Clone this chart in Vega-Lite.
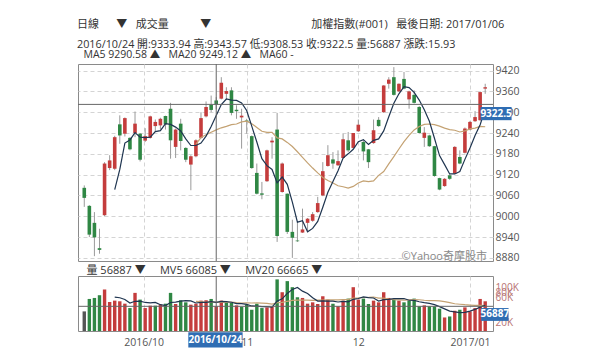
{
"$schema":"https://vega.github.io/schema/vega-lite/v6.json",
"padding":{"left":77,"top":18,"right":0,"bottom":0},
"background":"white",
"title":{"text":"\u00a0日線\u00a0\u00a0\u00a0\u00a0\u00a0\u00a0▼\u00a0\u00a0\u00a0成交量\u00a0\u00a0\u00a0\u00a0\u00a0\u00a0\u00a0\u00a0\u00a0\u00a0\u00a0▼\u00a0\u00a0\u00a0\u00a0\u00a0\u00a0\u00a0\u00a0\u00a0\u00a0\u00a0\u00a0\u00a0\u00a0\u00a0\u00a0\u00a0\u00a0\u00a0\u00a0\u00a0\u00a0\u00a0\u00a0\u00a0\u00a0\u00a0\u00a0\u00a0\u00a0\u00a0\u00a0\u00a0\u00a0\u00a0加權指數(#001)\u00a0\u00a0\u00a0最後日期: 2017/01/06","subtitle":"2016/10/24\u00a0開:9333.94\u00a0高:9343.57\u00a0低:9308.53\u00a0收:9322.5\u00a0量:56887\u00a0漲跌:15.93","anchor":"start","fontSize":11,"fontWeight":"normal","color":"#333","subtitleFontSize":10.8,"subtitleColor":"#333","subtitlePadding":9,"offset":0},
"datasets":{"d":[
{"i":0,"o":9082,"h":9089,"l":9027,"c":9053,"v":45200,"vd":"n"},
{"i":1,"o":9030,"h":9032,"l":8940,"c":8947,"v":73900,"vd":"d"},
{"i":2,"o":8981,"h":9012,"l":8885,"c":8939,"v":76200,"vd":"d"},
{"i":3,"o":8908,"h":8964,"l":8892,"c":8903,"v":82500,"vd":"d"},
{"i":4,"o":9003,"h":9156,"l":9000,"c":9152,"v":95700,"vd":"u"},
{"i":5,"o":9139,"h":9176,"l":9133,"c":9161,"v":66900,"vd":"u"},
{"i":6,"o":9137,"h":9232,"l":9133,"c":9228,"v":70000,"vd":"u","m5":9077,"v5":78300},
{"i":7,"o":9265,"h":9291,"l":9209,"c":9233,"v":68500,"vd":"u","m5":9135,"v5":76700},
{"i":8,"o":9238,"h":9285,"l":9230,"c":9283,"v":63000,"vd":"u","m5":9211,"v5":72800},
{"i":9,"o":9226,"h":9228,"l":9190,"c":9193,"v":52900,"vd":"d","m5":9220,"v5":64300},
{"i":10,"o":9240,"h":9302,"l":9228,"c":9267,"v":87900,"vd":"u","m5":9241,"v5":68500},
{"i":11,"o":9238,"h":9240,"l":9158,"c":9163,"v":72400,"vd":"d","m5":9228,"v5":68900},
{"i":12,"o":9218,"h":9254,"l":9214,"c":9231,"v":52900,"vd":"u","m5":9227,"v5":65800},
{"i":13,"o":9226,"h":9290,"l":9224,"c":9288,"v":58400,"vd":"u","m5":9228,"v5":64900},
{"i":14,"o":9260,"h":9279,"l":9243,"c":9272,"v":58400,"vd":"d","m5":9244,"v5":66000},
{"i":15,"o":9262,"h":9284,"l":9250,"c":9281,"v":60700,"vd":"u","m5":9247,"v5":60600},
{"i":16,"o":9289,"h":9290,"l":9250,"c":9265,"v":63000,"vd":"d","m5":9267,"v5":58700},
{"i":17,"o":9310,"h":9327,"l":9166,"c":9219,"v":87900,"vd":"d","m5":9265,"v5":65700},
{"i":18,"o":9200,"h":9253,"l":9168,"c":9250,"v":62200,"vd":"u","m5":9257,"v5":66400},
{"i":19,"o":9267,"h":9281,"l":9190,"c":9217,"v":70800,"vd":"d","m5":9246,"v5":68900},
{"i":20,"o":9197,"h":9199,"l":9156,"c":9163,"v":66100,"vd":"d","m5":9223,"v5":70000},
{"i":21,"o":9149,"h":9176,"l":9075,"c":9173,"v":60700,"vd":"u","m5":9204,"v5":69500},
{"i":22,"o":9173,"h":9222,"l":9170,"c":9219,"v":63000,"vd":"u","m5":9204,"m20":9208,"v5":64600,"v20":68200},
{"i":23,"o":9226,"h":9300,"l":9224,"c":9283,"v":70000,"vd":"u","m5":9211,"m20":9227,"v5":66100,"v20":67600},
{"i":24,"o":9288,"h":9331,"l":9285,"c":9315,"v":70800,"vd":"u","m5":9231,"m20":9235,"v5":66100,"v20":66300},
{"i":25,"o":9321,"h":9348,"l":9300,"c":9306.57,"v":73900,"vd":"d","m5":9259,"m20":9242,"v5":67700,"v20":66700},
{"i":26,"o":9333.94,"h":9343.57,"l":9308.53,"c":9322.5,"v":56887,"vd":"u","m5":9290.58,"m20":9249.12,"v5":66085,"v20":66665},
{"i":27,"o":9339,"h":9401,"l":9337,"c":9385,"v":70000,"vd":"u","m5":9322,"m20":9255,"v5":68300,"v20":66100},
{"i":28,"o":9353,"h":9372,"l":9335,"c":9361,"v":66100,"vd":"d","m5":9338,"m20":9259,"v5":67500,"v20":66300},
{"i":29,"o":9363,"h":9372,"l":9291,"c":9298,"v":64600,"vd":"d","m5":9335,"m20":9264,"v5":66300,"v20":66800},
{"i":30,"o":9307,"h":9320,"l":9281,"c":9303,"v":59100,"vd":"u","m5":9334,"m20":9266,"v5":63300,"v20":65400},
{"i":31,"o":9285,"h":9310,"l":9195,"c":9290,"v":55300,"vd":"d","m5":9327,"m20":9272,"v5":63000,"v20":64500},
{"i":32,"o":9276,"h":9281,"l":9238,"c":9272,"v":60700,"vd":"d","m5":9305,"m20":9274,"v5":61200,"v20":64900},
{"i":33,"o":9231,"h":9233,"l":9137,"c":9139,"v":49000,"vd":"d","m5":9260,"m20":9267,"v5":57700,"v20":64500},
{"i":34,"o":9125,"h":9152,"l":9063,"c":9065,"v":63000,"vd":"d","m5":9214,"m20":9256,"v5":57400,"v20":64700},
{"i":35,"o":9066,"h":9099,"l":9049,"c":9062,"v":52900,"vd":"d","m5":9166,"m20":9245,"v5":56200,"v20":64300},
{"i":36,"o":9101,"h":9192,"l":9099,"c":9190,"v":54500,"vd":"u","m5":9146,"m20":9242,"v5":56000,"v20":63900},
{"i":37,"o":9213,"h":9228,"l":9166,"c":9218,"v":55300,"vd":"u","m5":9135,"m20":9242,"v5":54900,"v20":62200},
{"i":38,"o":9250,"h":9298,"l":8926,"c":8943,"v":119000,"vd":"d","m5":9096,"m20":9226,"v5":68900,"v20":65100},
{"i":39,"o":9070,"h":9155,"l":9068,"c":9152,"v":89400,"vd":"u","m5":9113,"m20":9223,"v5":74200,"v20":66000},
{"i":40,"o":9065,"h":9066,"l":8949,"c":8955,"v":115000,"vd":"d","m5":9092,"m20":9213,"v5":86600,"v20":68500},
{"i":41,"o":8955,"h":8990,"l":8880,"c":8938,"v":101000,"vd":"d","m5":9041,"m20":9201,"v5":95900,"v20":70500},
{"i":42,"o":8930,"h":8984,"l":8926,"c":8928,"v":77800,"vd":"d","m5":8983,"m20":9186,"v5":100400,"v20":71200},
{"i":43,"o":8953,"h":9022,"l":8952,"c":8962,"v":76200,"vd":"u","m5":8987,"m20":9170,"v5":91900,"v20":71500},
{"i":44,"o":8981,"h":8995,"l":8955,"c":8993,"v":63000,"vd":"u","m5":8955,"m20":9154,"v5":86600,"v20":71100},
{"i":45,"o":8987,"h":9012,"l":8984,"c":9006,"v":66100,"vd":"u","m5":8965,"m20":9139,"v5":76800,"v20":70700},
{"i":46,"o":9012,"h":9056,"l":9010,"c":9038,"v":62200,"vd":"u","m5":8985,"m20":9125,"v5":69100,"v20":71000},
{"i":47,"o":9060,"h":9156,"l":9058,"c":9130,"v":80100,"vd":"u","m5":9026,"m20":9112,"v5":69500,"v20":71500},
{"i":48,"o":9145,"h":9205,"l":9143,"c":9176,"v":72400,"vd":"u","m5":9069,"m20":9103,"v5":68800,"v20":71800},
{"i":49,"o":9164,"h":9185,"l":9137,"c":9152,"v":63000,"vd":"d","m5":9100,"m20":9096,"v5":68800,"v20":71800},
{"i":50,"o":9147,"h":9190,"l":9145,"c":9159,"v":56800,"vd":"u","m5":9131,"m20":9088,"v5":66900,"v20":71600},
{"i":51,"o":9168,"h":9238,"l":9166,"c":9222,"v":70000,"vd":"u","m5":9168,"m20":9085,"v5":68500,"v20":72400},
{"i":52,"o":9219,"h":9243,"l":9185,"c":9190,"v":74700,"vd":"d","m5":9180,"m20":9081,"v5":67400,"v20":73100},
{"i":53,"o":9197,"h":9240,"l":9195,"c":9240,"v":101000,"vd":"u","m5":9193,"m20":9086,"v5":73100,"v20":75700},
{"i":54,"o":9245,"h":9279,"l":9243,"c":9264,"v":72400,"vd":"u","m5":9215,"m20":9096,"v5":75000,"v20":76100},
{"i":55,"o":9214,"h":9219,"l":9161,"c":9187,"v":74700,"vd":"d","m5":9221,"m20":9102,"v5":78600,"v20":77200},
{"i":56,"o":9193,"h":9194,"l":9139,"c":9156,"v":62200,"vd":"d","m5":9207,"m20":9100,"v5":77000,"v20":77600},
{"i":57,"o":9211,"h":9279,"l":9209,"c":9248,"v":70000,"vd":"u","m5":9219,"m20":9102,"v5":76100,"v20":78400},
{"i":58,"o":9278,"h":9286,"l":9258,"c":9260,"v":66100,"vd":"u","m5":9223,"m20":9118,"v5":69100,"v20":75700},
{"i":59,"o":9300,"h":9378,"l":9298,"c":9377,"v":89400,"vd":"u","m5":9246,"m20":9129,"v5":72500,"v20":75700},
{"i":60,"o":9382,"h":9401,"l":9368,"c":9394,"v":76200,"vd":"u","m5":9287,"m20":9151,"v5":72800,"v20":73800},
{"i":61,"o":9401,"h":9430,"l":9348,"c":9350,"v":72400,"vd":"d","m5":9326,"m20":9172,"m60":9193,"v5":74800,"v20":72300},
{"i":62,"o":9360,"h":9383,"l":9358,"c":9382,"v":70000,"vd":"u","m5":9353,"m20":9194,"v5":74800,"v20":71900},
{"i":63,"o":9396,"h":9416,"l":9366,"c":9368,"v":66100,"vd":"d","m5":9374,"m20":9215,"m60":9206,"v5":74800,"v20":71400},
{"i":64,"o":9337,"h":9362,"l":9310,"c":9360,"v":70000,"vd":"d","m5":9371,"m20":9233,"v5":70900,"v20":71800},
{"i":65,"o":9350,"h":9363,"l":9325,"c":9327,"v":74700,"vd":"d","m5":9357,"m20":9249,"m60":9211,"v5":70600,"v20":72200},
{"i":66,"o":9315,"h":9318,"l":9238,"c":9240,"v":56800,"vd":"d","m5":9335,"m20":9259,"v5":67500,"v20":72000},
{"i":67,"o":9226,"h":9257,"l":9200,"c":9241,"v":59100,"vd":"u","m5":9307,"m20":9265,"m60":9212,"v5":65300,"v20":70900},
{"i":68,"o":9233,"h":9235,"l":9200,"c":9202,"v":56800,"vd":"d","m5":9274,"m20":9266,"v5":63500,"v20":70100},
{"i":69,"o":9202,"h":9203,"l":9114,"c":9116,"v":56800,"vd":"d","m5":9225,"m20":9264,"m60":9210,"v5":60800,"v20":69800},
{"i":70,"o":9110,"h":9111,"l":9075,"c":9077,"v":51400,"vd":"d","m5":9175,"m20":9260,"v5":56200,"v20":69500},
{"i":71,"o":9087,"h":9110,"l":9085,"c":9108,"v":31200,"vd":"u","m5":9149,"m20":9254,"m60":9206,"v5":51100,"v20":67600},
{"i":72,"o":9118,"h":9121,"l":9105,"c":9108,"v":33500,"vd":"d","m5":9122,"m20":9250,"v5":45900,"v20":65500},
{"i":73,"o":9123,"h":9202,"l":9121,"c":9200,"v":46700,"vd":"u","m5":9122,"m20":9248,"m60":9203,"v5":43900,"v20":62800},
{"i":74,"o":9171,"h":9190,"l":9150,"c":9152,"v":49000,"vd":"d","m5":9129,"m20":9243,"v5":42400,"v20":61700},
{"i":75,"o":9183,"h":9256,"l":9181,"c":9253,"v":54500,"vd":"u","m5":9164,"m20":9246,"m60":9202,"v5":43000,"v20":60600},
{"i":76,"o":9250,"h":9275,"l":9248,"c":9272,"v":45200,"vd":"u","m5":9197,"m20":9252,"v5":45800,"v20":59800},
{"i":77,"o":9274,"h":9303,"l":9272,"c":9286,"v":52900,"vd":"u","m5":9233,"m20":9254,"m60":9203,"v5":49700,"v20":58900},
{"i":78,"o":9277,"h":9360,"l":9275,"c":9358,"v":73900,"vd":"u","m5":9264,"m20":9259,"v5":55100,"v20":59300},
{"i":79,"o":9368,"h":9382,"l":9353,"c":9372,"v":68500,"vd":"u","m5":9308,"m20":9258,"m60":9205,"v5":59000,"v20":58300}
]},
"spacing":0,
"vconcat":[
{"width":415,"height":197,
 "title":{"text":"MA5 9290.58 ▲\u00a0\u00a0\u00a0MA20 9249.12 ▲\u00a0\u00a0\u00a0MA60 -","anchor":"start","dx":6,"fontSize":10.5,"fontWeight":"normal","color":"#333","offset":3},
 "layer":[
  {"data":{"name":"d"},"mark":{"type":"rule","color":"#9a9a9a","strokeWidth":1},
   "encoding":{"x":{"field":"i","type":"quantitative","scale":{"domain":[-0.25,79.55],"nice":false,"zero":false},"axis":{"values":[11.7,32,54,76],"tickCount":20,"labels":false,"title":null,"grid":true}},
     "y":{"field":"l","type":"quantitative","scale":{"domain":[8871,9439],"nice":false,"zero":false},"axis":{"orient":"right","values":[8880,8940,9000,9060,9120,9180,9240,9300,9360,9420],"tickCount":30,"format":"d","title":null,"grid":true,"labelFontSize":10.5,"labelPadding":2}},
     "y2":{"field":"h"}}},
  {"data":{"name":"d"},"mark":{"type":"bar","size":3.6},
   "encoding":{"x":{"field":"i","type":"quantitative"},"y":{"field":"o","type":"quantitative"},"y2":{"field":"c"},
     "color":{"condition":{"test":"datum.c >= datum.o","value":"#c43c3c"},"value":"#2f8744"}}},
  {"data":{"name":"d"},"mark":{"type":"line","color":"#7f9e88","strokeWidth":1.2},
   "encoding":{"x":{"field":"i","type":"quantitative"},"y":{"field":"m60","type":"quantitative"}}},
  {"data":{"name":"d"},"mark":{"type":"line","color":"#c4a273","strokeWidth":1.2},
   "encoding":{"x":{"field":"i","type":"quantitative"},"y":{"field":"m20","type":"quantitative"}}},
  {"data":{"name":"d"},"mark":{"type":"line","color":"#1f3550","strokeWidth":1.2},
   "encoding":{"x":{"field":"i","type":"quantitative"},"y":{"field":"m5","type":"quantitative"}}},
  {"data":{"values":[{}]},"mark":{"type":"rule","color":"#666","strokeWidth":1},
   "encoding":{"x":{"datum":26,"type":"quantitative"}}},
  {"data":{"values":[{}]},"mark":{"type":"rule","color":"#666","strokeWidth":1},
   "encoding":{"y":{"datum":9322.5,"type":"quantitative"}}},
  {"data":{"values":[{}]},"mark":{"type":"rect","color":"#2f6db3","clip":false},
   "encoding":{"x":{"datum":78.1,"type":"quantitative"},"x2":{"datum":84.2},"y":{"datum":9315,"type":"quantitative"},"y2":{"datum":9277}}},
  {"data":{"values":[{}]},"mark":{"type":"text","color":"white","fontWeight":"bold","fontSize":10,"baseline":"middle","align":"center"},
   "encoding":{"x":{"datum":81.15,"type":"quantitative"},"y":{"datum":9296,"type":"quantitative"},"text":{"value":"9322.5"}}},
  {"data":{"values":[{}]},"mark":{"type":"text","color":"#888","fontSize":11,"baseline":"bottom","align":"right","dx":-1},
   "encoding":{"x":{"datum":79.55,"type":"quantitative"},"y":{"datum":8869,"type":"quantitative"},"text":{"value":"©Yahoo奇摩股市"}}}
 ]},
{"width":415,"height":55,
 "title":{"text":"量 56887 ▼\u00a0\u00a0\u00a0\u00a0\u00a0MV5 66085 ▼\u00a0\u00a0\u00a0\u00a0\u00a0MV20 66665 ▼","anchor":"start","dx":9,"fontSize":11,"fontWeight":"normal","color":"#333","offset":0},
 "layer":[
  {"data":{"name":"d"},"mark":{"type":"bar","size":3.4},
   "encoding":{"x":{"field":"i","type":"quantitative","scale":{"domain":[-0.25,79.55],"nice":false,"zero":false},"axis":{"values":[11.7,32,54,76],"tickCount":20,"labelExpr":"datum.value<20?'2016/10':datum.value==32?'11':datum.value==54?'12':'2017/01'","title":null,"grid":true,"labelFontSize":10.5,"labelPadding":6}},
     "y":{"field":"v","type":"quantitative","scale":{"domain":[0,126800],"nice":false},"axis":{"orient":"right","values":[20000,60000,80000,100000],"tickCount":20,"labelExpr":"(datum.value/1000)+'K'","title":null,"grid":false,"labelColor":"#b87474","labelFontSize":10,"labelPadding":2,"labelOffset":{"condition":[{"test":"datum.value==80000","value":-4},{"test":"datum.value==60000","value":-7}],"value":0}}},
     "color":{"field":"vd","type":"nominal","scale":{"domain":["u","d","n"],"range":["#c43c3c","#2f8744","#555555"]},"legend":null}}},
  {"data":{"name":"d"},"mark":{"type":"line","color":"#c4a273","strokeWidth":1.2},
   "encoding":{"x":{"field":"i","type":"quantitative"},"y":{"field":"v20","type":"quantitative"}}},
  {"data":{"name":"d"},"mark":{"type":"line","color":"#1f3550","strokeWidth":1.2},
   "encoding":{"x":{"field":"i","type":"quantitative"},"y":{"field":"v5","type":"quantitative"}}},
  {"data":{"values":[{}]},"mark":{"type":"rule","color":"#666","strokeWidth":1},
   "encoding":{"x":{"datum":26,"type":"quantitative"}}},
  {"data":{"values":[{}]},"mark":{"type":"rule","color":"#666","strokeWidth":1},
   "encoding":{"y":{"datum":56887,"type":"quantitative"}}},
  {"data":{"values":[{}]},"mark":{"type":"rect","color":"#2f6db3","clip":false},
   "encoding":{"x":{"datum":78.2,"type":"quantitative"},"x2":{"datum":83.6},"y":{"datum":52900,"type":"quantitative"},"y2":{"datum":23300}}},
  {"data":{"values":[{}]},"mark":{"type":"text","color":"white","fontWeight":"bold","fontSize":10,"baseline":"middle","align":"center"},
   "encoding":{"x":{"datum":80.9,"type":"quantitative"},"y":{"datum":38100,"type":"quantitative"},"text":{"value":"56887"}}},
  {"data":{"values":[{}]},"mark":{"type":"rect","color":"#2f6db3","clip":false},
   "encoding":{"x":{"datum":20.5,"type":"quantitative"},"x2":{"datum":31.2},"y":{"datum":-3000,"type":"quantitative"},"y2":{"datum":-38300}}},
  {"data":{"values":[{}]},"mark":{"type":"text","color":"white","fontWeight":"bold","fontSize":10,"baseline":"middle","align":"center"},
   "encoding":{"x":{"datum":25.85,"type":"quantitative"},"y":{"datum":-20600,"type":"quantitative"},"text":{"value":"2016/10/24"}}}
 ]}
],
"config":{
 "font":"Open Sans, Noto Sans CJK TC, sans-serif",
 "view":{"stroke":"#8a8a8a","strokeWidth":1},
 "axis":{"domain":false,"ticks":false,"gridColor":"#d4d4d4","gridDash":[4,3],"labelColor":"#555","labelPadding":3,"labelOverlap":false}
}
}
